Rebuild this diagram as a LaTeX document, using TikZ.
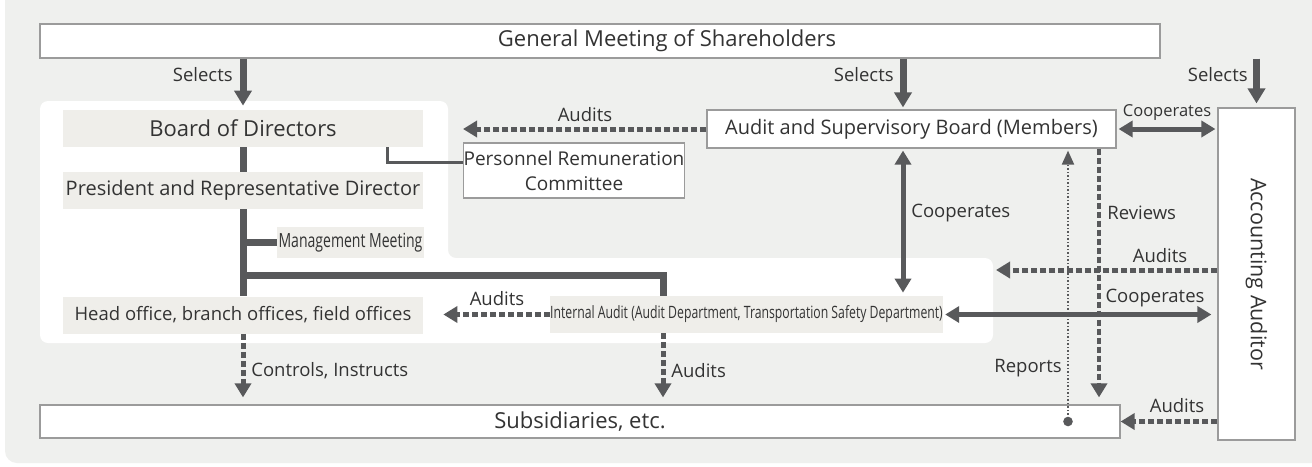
\documentclass[tikz,border=0pt]{standalone}
\usepackage{fontspec}
\setmainfont{Open Sans}
\newfontfamily\narrowfont[FakeStretch=0.72]{Open Sans}
\usepackage{graphicx}
\usetikzlibrary{arrows.meta,positioning,calc}
\definecolor{panelgray}{HTML}{EFF0EE}
\definecolor{unitgray}{HTML}{EFEEEA}
\definecolor{linegray}{HTML}{58595B}
\definecolor{framegray}{HTML}{9B9B9B}
\definecolor{ink}{HTML}{333333}
\tikzset{every picture/.style={line width=0.75pt}}
\tikzset{
  box/.style={draw=framegray, line width=1.2pt, fill=white, inner sep=0pt, text=ink, font=\fontsize{20}{24}\selectfont},
  unit/.style={fill=unitgray, inner sep=0pt, text=ink, font=\fontsize{20}{24}\selectfont},
  narrowunit/.style={unit, font=\narrowfont\fontsize{18}{22}\selectfont},
  lbl/.style={inner sep=0pt, text=ink, font=\fontsize{18.5}{21}\selectfont},
  selects/.style={draw=linegray, line width=7pt, -{Triangle[width=17pt,length=15pt]}},
  spine/.style={draw=linegray, line width=7pt},
  audits/.style={draw=linegray, line width=5pt, dash pattern=on 6pt off 3pt, -{Triangle[width=16pt,length=14pt]}},
  coop/.style={draw=linegray, line width=5pt, {Triangle[width=16pt,length=14pt]}-{Triangle[width=16pt,length=14pt]}},
  reports/.style={draw=linegray, line width=2pt, dash pattern=on 1.5pt off 2pt, -{Triangle[width=12pt,length=14pt]}}
}

\begin{document}
\begin{tikzpicture}[x=1pt,y=-1pt]
    \useasboundingbox (0,0) rectangle (1312,466);

    % 背景
    \fill[white] (0,0) rectangle (1312,466);
    \fill[panelgray, rounded corners=12pt] (5,-20) rectangle (1340,463);

    % 公司内部
    \fill[white, rounded corners=8pt] (40,101) -- (448,101) -- (448,258) -- (993,258)
        -- (993,343) -- (40,343) -- cycle;

    % 各机构
    \node[box, minimum width=1120pt, minimum height=34pt, font=\fontsize{22}{26}\selectfont] (gm) at (600,41) {\hspace*{134pt}General Meeting of Shareholders};
    \node[unit, minimum width=360pt, minimum height=37pt, font=\fontsize{22}{26}\selectfont] (bod) at (243,128.5) {Board of Directors};
    \node[unit, minimum width=360pt, minimum height=37pt] (pres) at (243,190.5) {President and Representative Director};
    \node[narrowunit, minimum width=147pt, minimum height=31pt, font=\narrowfont\fontsize{19.5}{22}\selectfont] (mm) at (350.5,242.5) {Management Meeting};
    \node[unit, minimum width=360pt, minimum height=37pt, font=\fontsize{18.5}{22}\selectfont] (ho) at (243,315) {Head office, branch offices, field offices};
    \node[narrowunit, minimum width=389pt, minimum height=37pt, font=\narrowfont\fontsize{17}{20}\selectfont] (ia) at (746.5,314.5) {Internal Audit (Audit Department, Transportation Safety Department)};
    \node[box, align=center, minimum width=220pt, minimum height=55pt, font=\fontsize{19}{25}\selectfont] (prc) at (574,170.5) {Personnel Remuneration\\Committee};
    \node[box, minimum width=409pt, minimum height=38pt] (asb) at (911.5,129) {Audit and Supervisory Board (Members)};
    \node[box, minimum width=77pt, minimum height=332pt, font=\fontsize{21.5}{24}\selectfont] (aa) at (1256.5,274) {\rotatebox{-90}{Accounting Auditor}};
    \node[box, minimum width=1080pt, minimum height=33pt, font=\fontsize{22}{26}\selectfont] (sub) at (580,421.5) {Subsidiaries, etc.};

    \coordinate (midcol) at (903,0);
    \coordinate (repcol) at (1068,0);
    \coordinate (revcol) at (1099,0);
    \coordinate (branch) at (663,275);
    \coordinate (panelR) at (996,270);

    % 选任
    \draw[selects, shorten >=4pt] (gm.south -| bod.north) -- (bod.north);
    \draw[selects, shorten >=2pt] (gm.south -| midcol) -- (asb.north -| midcol);
    \draw[selects, shorten >=4pt] (gm.south -| aa.north) -- (aa.north);
    \node[lbl, anchor=east] (sel1) at (233,75) {Selects};
    \node[lbl, anchor=east] (sel2) at (894,75) {Selects};
    \node[lbl, anchor=east] (sel3) at (1248,75) {Selects};

    % 执行系统
    \draw[spine] (bod.south) -- (pres.north);
    \draw[spine] (pres.south) -- (ho.north);
    \draw[spine] (pres.south |- mm.west) -- (mm.west);
    \draw[spine, line join=miter] (pres.south |- branch) -- (branch) -- (ia.north -| branch);
    \draw[draw=linegray, line width=3pt] ([xshift=-36pt]bod.south east) |- ([yshift=8.5pt]prc.west);

    % 监查
    \draw[audits] (asb.west) -- (asb.west -| prc.west);
    \node[lbl] (aud1) at (585,115) {Audits};
    \draw[audits, shorten >=20pt] (ia.west) -- (ia.west -| ho.east);
    \node[lbl] (aud2) at (497,299) {Audits};
    \draw[audits, shorten >=7pt] (ho.south) -- (ho.south |- sub.north);
    \node[lbl, anchor=west] (ctrl) at (251,371) {Controls, Instructs};
    \draw[audits, shorten >=7pt] (ia.south -| branch) -- (sub.north -| branch);
    \node[lbl, anchor=west] (aud3) at (671,371) {Audits};
    \draw[audits] (aa.west |- panelR) -- (panelR);
    \node[lbl] (aud4) at (1160,256) {Audits};
    \draw[audits] (sub.east -| aa.west) -- (sub.east);
    \node[lbl] (aud5) at (1177,406) {Audits};

    % 联系
    \draw[coop, shorten <=2pt, shorten >=3pt] (asb.south -| midcol) -- (ia.north -| midcol);
    \node[lbl, anchor=west] (coop1) at (911,213) {Cooperates};
    \draw[coop, shorten <=2pt, shorten >=2pt] (asb.east) -- (asb.east -| aa.west);
    \node[lbl, font=\fontsize{16.5}{18}\selectfont] (coop2) at (1167,113) {Cooperates};
    \draw[coop, shorten <=2pt, shorten >=6pt] (ia.east) -- (ia.east -| aa.west);
    \node[lbl] (coop3) at (1155,298) {Cooperates};

    % 审查与报告
    \draw[audits, line width=4.5pt, shorten >=7pt] (asb.south -| revcol) -- (sub.north -| revcol);
    \node[lbl, anchor=west] (rev) at (1107,213) {Reviews};
    \fill[linegray] (sub.center -| repcol) circle (4.8pt);
    \draw[reports, shorten >=2pt] (sub.center -| repcol) -- (asb.south -| repcol);
    \node[lbl, anchor=east] (rep) at (1062,368) {Reports};
\end{tikzpicture}
\end{document}
